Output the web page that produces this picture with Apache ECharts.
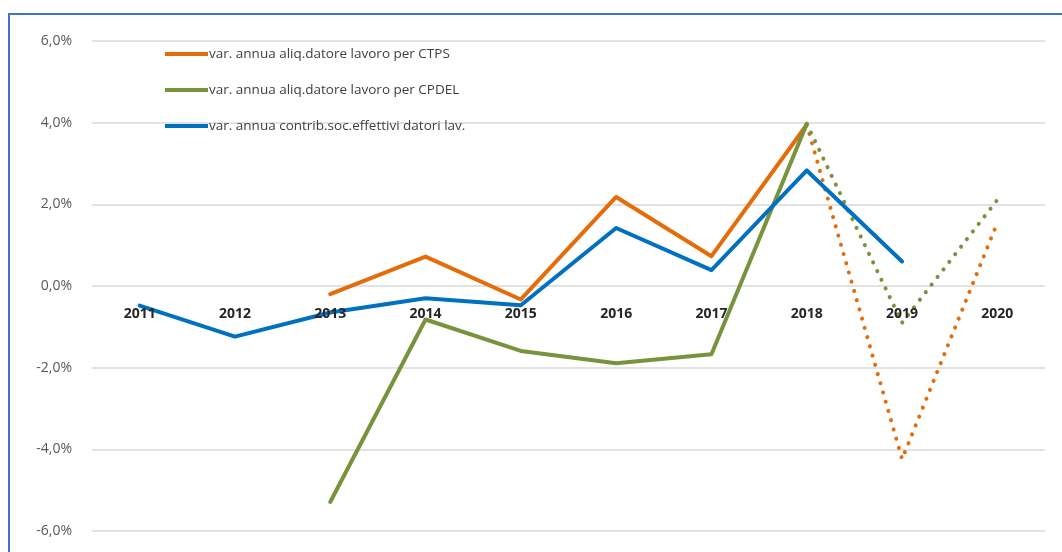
<!DOCTYPE html>
<html>
<head>
<meta charset="utf-8">
<script src="https://cdn.jsdelivr.net/npm/echarts@6/dist/echarts.min.js"></script>
<style>
html,body{margin:0;padding:0;background:#fff;overflow:hidden;}
#frame{position:absolute;left:8px;top:13px;width:1100px;height:600px;border:2px solid #4472C4;box-sizing:border-box;}
#chart{position:absolute;left:0;top:0;width:1062px;height:552px;}
</style>
</head>
<body>
<div id="frame"></div>
<div id="chart"></div>
<script>
const years = ['2011','2012','2013','2014','2015','2016','2017','2018','2019','2020'];
const nameCTPS = 'var. annua aliq.datore lavoro per CTPS';
const nameCPDEL = 'var. annua aliq.datore lavoro per CPDEL';
const nameContrib = 'var. annua contrib.soc.effettivi datori lav.';
const ctps = [null, null, -0.2, 0.72, -0.33, 2.18, 0.73, 3.95, null, null];
const ctpsForecast = [null, null, null, null, null, null, null, 3.95, -4.24, 1.55];
const cpdel = [null, null, -5.29, -0.82, -1.59, -1.89, -1.67, 3.97, null, null];
const cpdelForecast = [null, null, null, null, null, null, null, 3.97, -0.9, 2.11];
const contrib = [-0.48, -1.24, -0.65, -0.3, -0.47, 1.42, 0.39, 2.83, 0.6, null];
const yTicks = {min: -6, max: 6, step: 2};

const cOrange = '#E46C0A', cGreen = '#77933C', cBlue = '#0070C0';
const FONT = 'Open Sans';
const chart = echarts.init(document.getElementById('chart'), null, {renderer: 'canvas'});
const solid = (name, data, color) => ({
  name, type: 'line', data, symbol: 'none', connectNulls: false,
  lineStyle: {color, width: 4, cap: 'round', join: 'round'}, itemStyle: {color}, z: 3
});
const dotted = (name, data, color) => ({
  name, type: 'line', data, symbol: 'none',
  lineStyle: {color, width: 4, type: [0.1, 9.5], cap: 'round'}, itemStyle: {color}, z: 2
});
chart.setOption({
  animation: false,
  backgroundColor: 'transparent',
  textStyle: {fontFamily: FONT},
  grid: {left: 92, right: 17, top: 41, bottom: 21, containLabel: false, outerBoundsMode: 'none'},
  legend: {
    orient: 'vertical', left: 160, top: 42,
    data: [nameCTPS, nameCPDEL, nameContrib],
    icon: 'rect', itemWidth: 43, itemHeight: 4, itemGap: 22,
    textStyle: {fontSize: 13.5, color: '#404040', fontFamily: FONT, padding: [0,0,0,-4]}
  },
  xAxis: {
    type: 'category', data: years, boundaryGap: true, position: 'bottom', offset: -245, z: 10,
    axisLine: {show: false, onZero: false}, axisTick: {show: false},
    axisLabel: {fontSize: 14, fontWeight: 'bold', color: '#262626', margin: 21, fontFamily: FONT}
  },
  yAxis: {
    type: 'value', min: yTicks.min, max: yTicks.max, interval: yTicks.step,
    axisLine: {show: false}, axisTick: {show: false},
    axisLabel: {fontSize: 14, color: '#595959', margin: 20, fontFamily: FONT,
      formatter: v => v.toFixed(1).replace('.', ',') + '%'},
    splitLine: {lineStyle: {color: '#D9D9D9', width: 1.5}}
  },
  series: [
    solid(nameCTPS, ctps, cOrange),
    solid(nameCPDEL, cpdel, cGreen),
    solid(nameContrib, contrib, cBlue),
    dotted('CTPS previsione', ctpsForecast, cOrange),
    dotted('CPDEL previsione', cpdelForecast, cGreen)
  ]
});
</script>
</body>
</html>
